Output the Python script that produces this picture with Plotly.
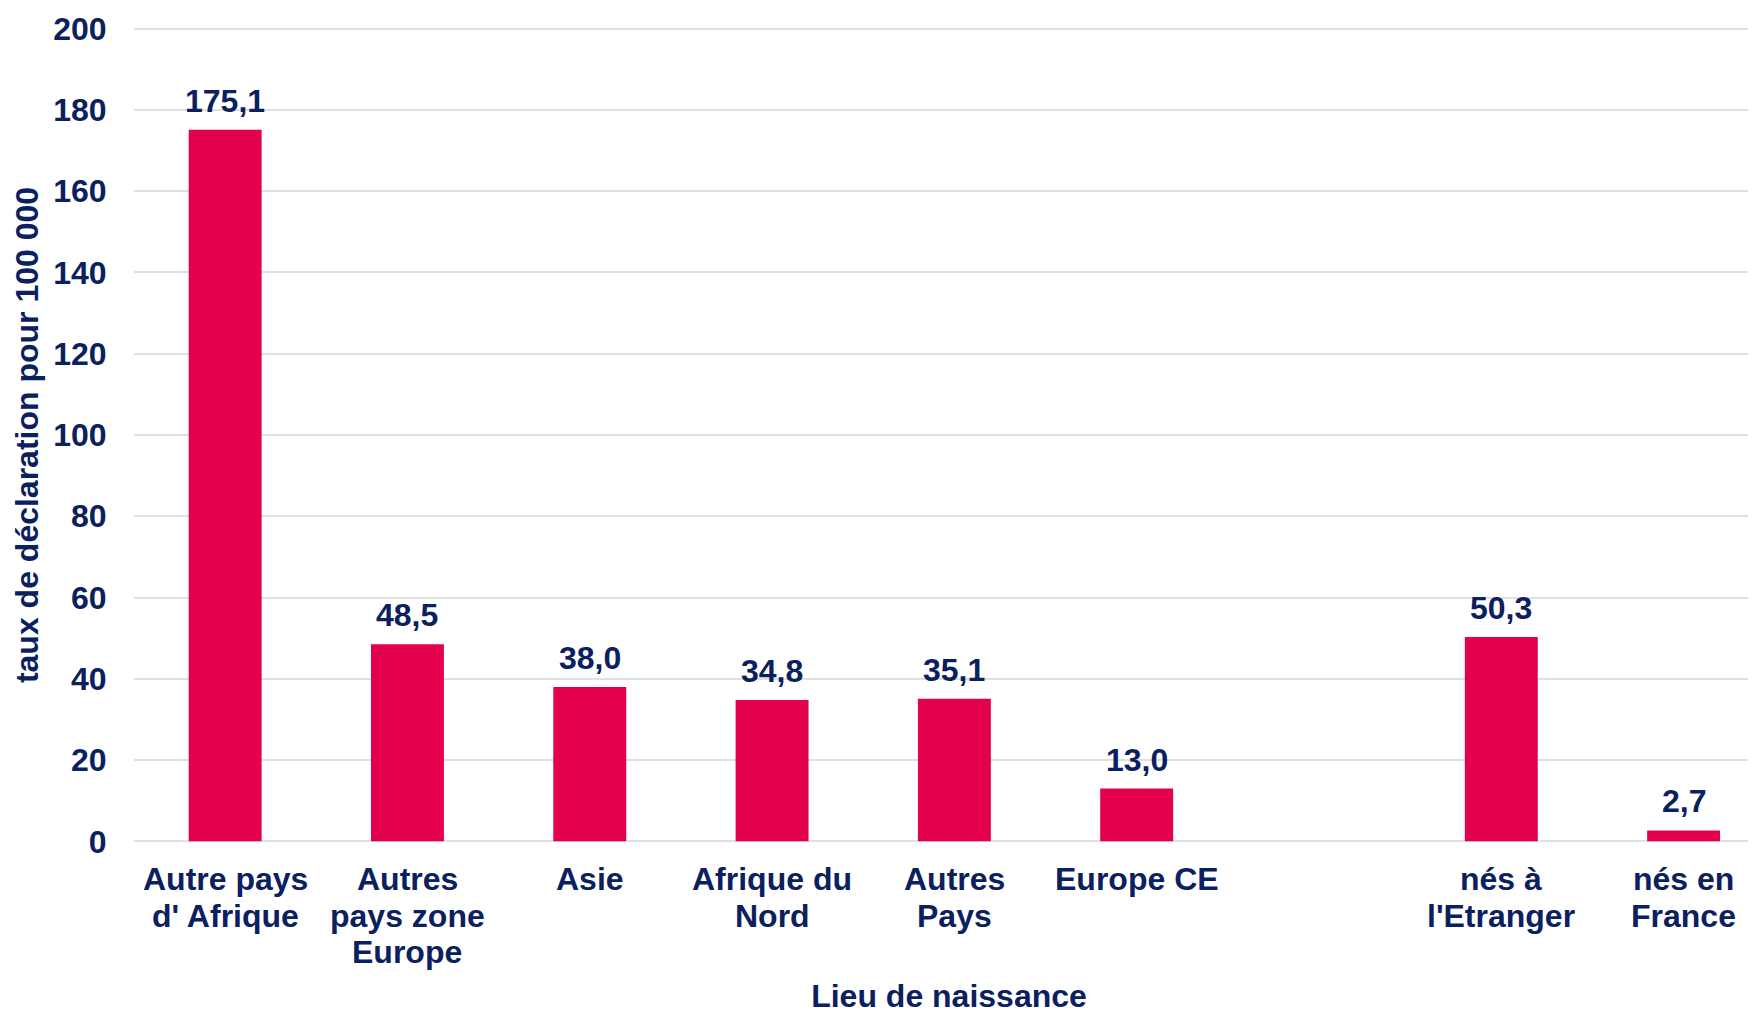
import plotly.graph_objects as go

categories = ["Autre pays<br>d' Afrique", "Autres<br>pays zone<br>Europe", "Asie", "Afrique du<br>Nord",
              "Autres<br>Pays", "Europe CE", "", "nés à<br>l'Etranger", "nés en<br>France"]
values = [175.1, 48.5, 38.0, 34.8, 35.1, 13.0, None, 50.3, 2.7]
y_ticks = [0, 20, 40, 60, 80, 100, 120, 140, 160, 180, 200]

NAVY = "#0B205E"
RED = "#E3004F"
FONT = "Liberation Sans, Arial, sans-serif"
FS = 32
TXT = dict(family=FONT, size=FS, color=NAVY, weight="bold")

xpos = list(range(len(categories)))

fig = go.Figure(go.Bar(
    x=xpos, y=values, width=0.4,
    marker=dict(color=RED, line=dict(width=0)),
    cliponaxis=False,
))

# value labels
for x, v in zip(xpos, values):
    if v is None:
        continue
    fig.add_annotation(
        x=x, y=v, text=f"{v:.1f}".replace(".", ","), showarrow=False,
        yanchor="bottom", yshift=9, font=TXT,
    )

# category labels (one annotation per line for tighter line spacing)
LINE_GAP = 36.5
FIRST = 38
for x, lab in zip(xpos, categories):
    if not lab:
        continue
    for i, line in enumerate(lab.split("<br>")):
        fig.add_annotation(
            x=x, y=0, text=line, showarrow=False, yanchor="middle",
            yshift=-(FIRST + i * LINE_GAP), font=TXT,
        )

fig.update_layout(
    width=1756, height=1012,
    margin=dict(l=126, r=0, t=19, b=177, autoexpand=False),
    paper_bgcolor="white", plot_bgcolor="white",
    showlegend=False,
    font=TXT,
    xaxis=dict(
        tickmode="array", tickvals=xpos, ticktext=categories, showticklabels=False,
        range=[-0.5, 8.441], showgrid=False, zeroline=False, showline=False,
        automargin=False, ticks="",
        title=dict(text="Lieu de naissance", standoff=141, font=TXT),
    ),
    yaxis=dict(
        range=[-0.4, 200.4], tickvals=y_ticks, showgrid=True, gridcolor="#E0E0E0", gridwidth=2,
        zeroline=False, showline=False, automargin=False,
        ticks="outside", ticklen=20, tickcolor="rgba(0,0,0,0)",
        tickfont=TXT,
        title=dict(text="taux de déclaration pour 100 000", standoff=5, font=TXT),
    ),
)

fig.write_html("out.html")
